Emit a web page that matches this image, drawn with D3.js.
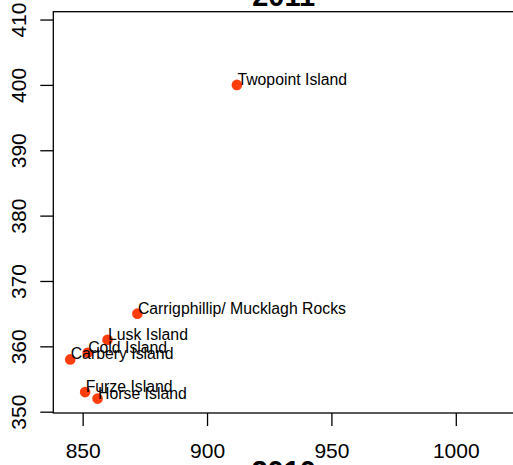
<!DOCTYPE html>
<html>
<head>
<meta charset="utf-8">
<script src="https://cdn.jsdelivr.net/npm/d3@7"></script>
<style>
  html, body { margin: 0; padding: 0; background: #fff; }
  svg { display: block; font-family: "Liberation Sans", Arial, Helvetica, sans-serif; }
</style>
</head>
<body>
<svg id="chart" width="513" height="465"></svg>
<script>
// Island names and counts for the two survey years
const islands = [
  "Twopoint Island",
  "Carrigphillip/ Mucklagh Rocks",
  "Lusk Island",
  "Cold Island",
  "Carbery Island",
  "Furze Island",
  "Horse Island"
];
const count2010 = [912, 872, 860, 852, 845, 851, 856];
const count2011 = [400, 365, 361, 359, 358, 353, 352];

const xTicks = [850, 900, 950, 1000];
const yTicks = [350, 360, 370, 380, 390, 400, 410];

const titleText = "2011";
const xLabelText = "2010";

const svg = d3.select("#chart");
const W = 513, H = 465;

const plot = { left: 53.3, right: 514, top: 11.7, bottom: 413 };

const x = d3.scaleLinear().domain([838.2, 1023.4]).range([plot.left, plot.right]);
const y = d3.scaleLinear().domain([349.8, 411.2]).range([plot.bottom, plot.top]);

svg.append("rect").attr("width", W).attr("height", H).attr("fill", "#fff");

// x axis
const gx = svg.append("g")
  .attr("transform", `translate(0,${plot.bottom})`)
  .call(d3.axisBottom(x).tickValues(xTicks).tickSize(13).tickSizeOuter(0).tickPadding(17).tickFormat(d3.format("d")));
gx.select(".domain").remove();
gx.selectAll(".tick line").attr("stroke", "#000").attr("stroke-width", 1.3);
gx.selectAll(".tick text").attr("font-size", 21).attr("fill", "#000")
  .attr("font-family", "'Liberation Sans', Arial, sans-serif");

// y axis with rotated labels
const gy = svg.append("g")
  .attr("transform", `translate(${plot.left},0)`)
  .call(d3.axisLeft(y).tickValues(yTicks).tickSize(13).tickSizeOuter(0).tickFormat(d3.format("d")));
gy.select(".domain").remove();
gy.selectAll(".tick line").attr("stroke", "#000").attr("stroke-width", 1.3);
gy.selectAll(".tick text")
  .attr("font-size", 21).attr("fill", "#000")
  .attr("font-family", "'Liberation Sans', Arial, sans-serif")
  .attr("x", null).attr("dy", null)
  .attr("text-anchor", "middle")
  .attr("transform", "translate(-27.3,0) rotate(-90)");

// plot frame
svg.append("rect")
  .attr("x", plot.left).attr("y", plot.top)
  .attr("width", plot.right - plot.left).attr("height", plot.bottom - plot.top)
  .attr("fill", "none").attr("stroke", "#000").attr("stroke-width", 1.3);

// points
const rows = islands.map((name, i) => ({ name, a: count2010[i], b: count2011[i] }));

svg.append("g").selectAll("circle").data(rows).join("circle")
  .attr("cx", d => x(d.a)).attr("cy", d => y(d.b))
  .attr("r", 5.3).attr("fill", "#FF3D0D");

svg.append("g").selectAll("text").data(rows).join("text")
  .attr("x", d => x(d.a) + 0.5).attr("y", d => y(d.b))
  .attr("font-size", 15.8).attr("fill", "#000")
  .text(d => d.name);

// title and axis title
const cx = (plot.left + plot.right) / 2;
svg.append("text").attr("x", cx).attr("y", 6)
  .attr("text-anchor", "middle").attr("font-size", 29).attr("font-weight", "bold")
  .text(titleText);
svg.append("text").attr("x", cx).attr("y", 481)
  .attr("text-anchor", "middle").attr("font-size", 29).attr("font-weight", "bold")
  .text(xLabelText);
</script>
</body>
</html>
